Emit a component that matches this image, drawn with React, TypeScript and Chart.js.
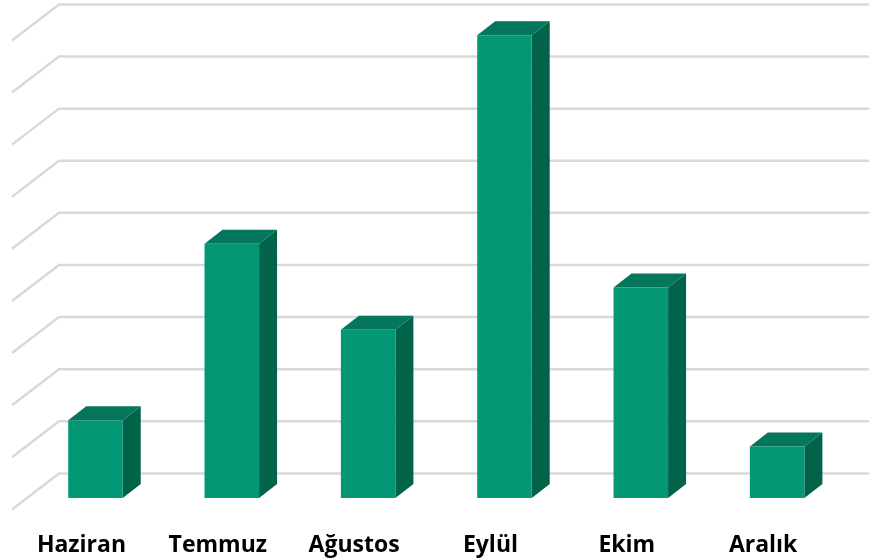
import React, { useEffect, useRef } from "react";
import { Chart, registerables } from "chart.js";

Chart.register(...registerables);

const categories = ["Haziran", "Temmuz", "Ağustos", "Eylül", "Ekim", "Aralık"];
const values = [1.49, 4.88, 3.23, 8.88, 4.04, 0.99];
const gridValues = [0, 1, 2, 3, 4, 5, 6, 7, 8, 9];

const FRONT = "#049775";
const TOP = "#04765b";
const SIDE = "#02634b";
const GRID = "#d9d9d9";

const depthPlugin = {
  id: "depth",
  beforeDatasetsDraw(chart: any) {
    const { ctx, scales, width } = chart;
    const y = scales.y;
    ctx.save();
    ctx.strokeStyle = GRID;
    ctx.lineWidth = 2.5;
    for (const v of gridValues) {
      const py = y.getPixelForValue(v) - 24.6;
      ctx.beginPath();
      ctx.moveTo(12, py + 36);
      ctx.lineTo(59, py);
      ctx.lineTo(width, py);
      ctx.stroke();
    }
    const dx = 18;
    const dy = 14;
    chart.getDatasetMeta(0).data.forEach((bar: any) => {
      const l = bar.x - bar.width / 2;
      const r = bar.x + bar.width / 2;
      const t = bar.y;
      const b = bar.base;
      ctx.fillStyle = SIDE;
      ctx.beginPath();
      ctx.moveTo(r, t);
      ctx.lineTo(r + dx, t - dy);
      ctx.lineTo(r + dx, b - dy);
      ctx.lineTo(r, b);
      ctx.closePath();
      ctx.fill();
      ctx.fillStyle = TOP;
      ctx.beginPath();
      ctx.moveTo(l, t);
      ctx.lineTo(l + dx, t - dy);
      ctx.lineTo(r + dx, t - dy);
      ctx.lineTo(r, t);
      ctx.closePath();
      ctx.fill();
    });
    ctx.restore();
  },
};

export default function App() {
  const ref = useRef<HTMLCanvasElement>(null);
  useEffect(() => {
    document.body.style.margin = "0";
    const chart = new Chart(ref.current!, {
      type: "bar",
      data: {
        labels: categories,
        datasets: [
          {
            data: values,
            backgroundColor: FRONT,
            barPercentage: 0.4,
            categoryPercentage: 1,
          },
        ],
      },
      options: {
        animation: false,
        responsive: false,
        layout: { padding: { left: 27.3, right: 23.7, top: 4, bottom: 0 } },
        plugins: { legend: { display: false }, tooltip: { enabled: false } },
        scales: {
          x: {
            grid: { display: false },
            border: { display: false },
            afterFit: (s: any) => {
              s.height = 62;
            },
            ticks: {
              color: "#000000",
              padding: 26,
              labelOffset: -14,
              maxRotation: 0,
              font: { family: "'Open Sans'", weight: "bold", size: 23 },
            },
          },
          y: { display: false, min: 0, max: 9.48 },
        },
      },
      plugins: [depthPlugin],
    } as any);
    return () => chart.destroy();
  }, []);
  return <canvas ref={ref} width={869} height={560} style={{ display: "block" }} />;
}
